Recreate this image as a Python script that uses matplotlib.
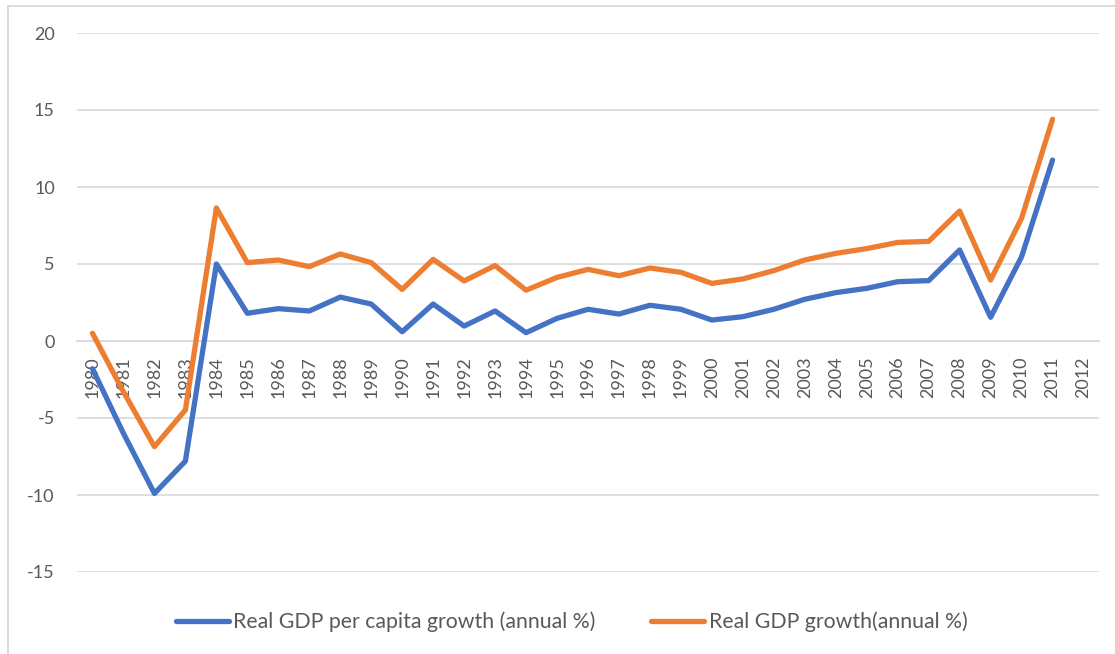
import matplotlib
matplotlib.use("Agg")
import matplotlib.pyplot as plt
from matplotlib.lines import Line2D

years = [str(y) for y in range(1980, 2013)]
gdp_pc_growth = [-1.8, -6.0, -9.9, -7.8, 5.0, 1.8, 2.1, 1.95, 2.85, 2.4, 0.6, 2.4,
                 0.97, 1.95, 0.54, 1.47, 2.06, 1.75, 2.32, 2.06, 1.36, 1.58, 2.06,
                 2.71, 3.14, 3.42, 3.85, 3.92, 5.91, 1.54, 5.47, 11.75, None]
gdp_growth = [0.5, -3.3, -6.86, -4.48, 8.64, 5.09, 5.26, 4.83, 5.65, 5.09, 3.35, 5.3,
              3.9, 4.9, 3.3, 4.13, 4.65, 4.24, 4.74, 4.46, 3.74, 4.03, 4.57,
              5.26, 5.69, 6.0, 6.4, 6.47, 8.44, 3.96, 7.97, 14.4, None]
series_names = ["Real GDP per capita growth (annual %)", "Real GDP growth(annual %)"]
y_ticks = [-15, -10, -5, 0, 5, 10, 15, 20]

plt.rcParams['font.family'] = ['Lato', 'DejaVu Sans']
text_color = '#595959'
grid_color = '#D9D9D9'

fig = plt.figure(figsize=(11.15, 6.54), dpi=100)
ax = fig.add_axes([77/1115, 1-572/654, (1099-77)/1115, (572-33)/654])

x = list(range(len(years)))
def clean(vals):
    return [float('nan') if v is None else v for v in vals]

ax.plot(x, clean(gdp_pc_growth), color='#4472C4', lw=3.8, solid_capstyle='round',
        solid_joinstyle='round', label=series_names[0], zorder=3)
ax.plot(x, clean(gdp_growth), color='#ED7D31', lw=3.8, solid_capstyle='round',
        solid_joinstyle='round', label=series_names[1], zorder=3)

ax.set_xlim(-0.5, len(years) - 0.5)
ax.set_ylim(-15, 20)
ax.set_yticks(y_ticks)
ax.set_yticklabels([str(v) for v in y_ticks])
ax.yaxis.grid(True, color=grid_color, lw=1.2)
ax.set_axisbelow(True)

ax.spines['bottom'].set_position(('data', 0))
ax.spines['bottom'].set_color(grid_color)
ax.spines['bottom'].set_linewidth(1.2)
for s in ['top', 'right', 'left']:
    ax.spines[s].set_visible(False)
ax.set_xticks(x)
ax.set_xticklabels(years)
ax.tick_params(axis='x', length=0, pad=11, labelsize=13, labelcolor=text_color,
               labelrotation=90)
ax.tick_params(axis='y', length=0, pad=16, labelsize=13, labelcolor=text_color)

fig.legend(loc='center', bbox_to_anchor=(571.5/1115, 1-622/654), ncol=2, frameon=False,
           fontsize=15.3, labelcolor=text_color, handlelength=2.5, handletextpad=0.22,
           columnspacing=2.6)

# outer chart frame: only left and top edges are visible in the crop
fig.add_artist(Line2D([7.5/1115, 7.5/1115], [0, 1-5.5/654], transform=fig.transFigure,
                      color=grid_color, lw=1.3))
fig.add_artist(Line2D([7.5/1115, 1], [1-5.5/654, 1-5.5/654], transform=fig.transFigure,
                      color=grid_color, lw=1.3))

fig.savefig('out.png', dpi=100)
